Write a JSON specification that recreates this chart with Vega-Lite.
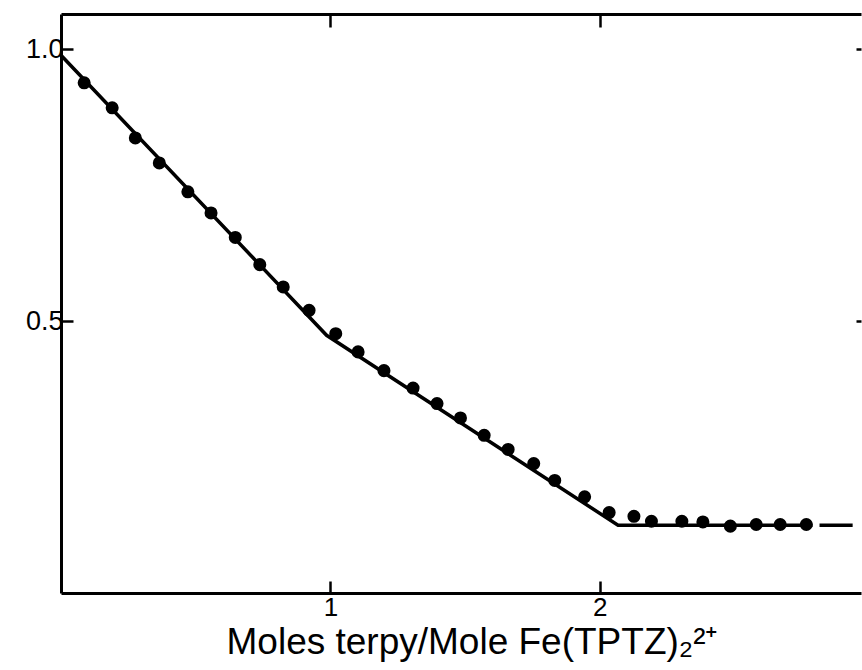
{
  "$schema": "https://vega.github.io/schema/vega-lite/v6.json",
  "width": 800,
  "height": 579,
  "autosize": {"type": "none"},
  "padding": {"left": 61, "top": 14, "right": 1, "bottom": 77},
  "background": "white",
  "config": {
    "view": {"stroke": null},
    "font": "Liberation Sans",
    "axis": {
      "domainColor": "black",
      "domainWidth": 3,
      "tickColor": "black",
      "tickWidth": 2.5,
      "tickSize": -12,
      "labelColor": "black",
      "labelFont": "Liberation Sans",
      "grid": false,
      "titleColor": "black",
      "titleFont": "Liberation Sans",
      "titleFontWeight": "normal"
    },
    "axisX": {"labelFontSize": 26},
    "axisY": {"labelFontSize": 27}
  },
  "datasets": {
    "pts": [
      {"ratio": 0.086, "abs": 0.9385},
      {"ratio": 0.190, "abs": 0.8925},
      {"ratio": 0.276, "abs": 0.837},
      {"ratio": 0.365, "abs": 0.791},
      {"ratio": 0.471, "abs": 0.738},
      {"ratio": 0.557, "abs": 0.699},
      {"ratio": 0.647, "abs": 0.654},
      {"ratio": 0.738, "abs": 0.604},
      {"ratio": 0.825, "abs": 0.563},
      {"ratio": 0.921, "abs": 0.520},
      {"ratio": 1.020, "abs": 0.477},
      {"ratio": 1.103, "abs": 0.4435},
      {"ratio": 1.199, "abs": 0.409},
      {"ratio": 1.307, "abs": 0.377},
      {"ratio": 1.396, "abs": 0.3485},
      {"ratio": 1.483, "abs": 0.322},
      {"ratio": 1.571, "abs": 0.290},
      {"ratio": 1.660, "abs": 0.264},
      {"ratio": 1.755, "abs": 0.238},
      {"ratio": 1.833, "abs": 0.207},
      {"ratio": 1.944, "abs": 0.177},
      {"ratio": 2.035, "abs": 0.148},
      {"ratio": 2.127, "abs": 0.141},
      {"ratio": 2.192, "abs": 0.132},
      {"ratio": 2.305, "abs": 0.132},
      {"ratio": 2.383, "abs": 0.1307},
      {"ratio": 2.485, "abs": 0.123},
      {"ratio": 2.581, "abs": 0.126},
      {"ratio": 2.670, "abs": 0.126},
      {"ratio": 2.767, "abs": 0.126}
    ],
    "fit": [
      {"seg": "a", "ratio": 0.0, "abs": 0.989},
      {"seg": "a", "ratio": 0.986, "abs": 0.474},
      {"seg": "a", "ratio": 2.068, "abs": 0.1246},
      {"seg": "a", "ratio": 2.790, "abs": 0.1246},
      {"seg": "b", "ratio": 2.816, "abs": 0.1246},
      {"seg": "b", "ratio": 2.939, "abs": 0.1246}
    ]
  },
  "layer": [
    {
      "data": {"name": "fit"},
      "mark": {"type": "line", "color": "black", "strokeWidth": 3.5},
      "encoding": {
        "x": {
          "field": "ratio", "type": "quantitative",
          "scale": {"domain": [0, 2.97], "nice": false, "zero": false},
          "axis": {
            "orient": "bottom", "values": [1, 2], "format": "d",
            "labelPadding": 13,
            "title": "Moles terpy/Mole Fe(TPTZ)₂²⁺",
            "titleFontSize": 37, "titlePadding": 4, "titleX": 411, "titleAlign": "center"
          }
        },
        "y": {
          "field": "abs", "type": "quantitative",
          "scale": {"domain": [0, 1.065], "nice": false, "zero": false},
          "axis": {
            "orient": "left", "values": [0.5, 1.0], "format": ".1f",
            "labelPadding": 10, "title": null
          }
        },
        "detail": {"field": "seg", "type": "nominal"}
      }
    },
    {
      "data": {"name": "pts"},
      "mark": {"type": "circle", "color": "black", "opacity": 1, "size": 170},
      "encoding": {
        "x": {
          "field": "ratio", "type": "quantitative",
          "axis": {
            "orient": "top", "values": [1, 2], "labels": false, "title": null,
            "tickSize": -13
          }
        },
        "y": {
          "field": "abs", "type": "quantitative",
          "axis": {
            "orient": "right", "values": [0.5, 1.0], "labels": false, "title": null,
            "domain": false, "tickSize": -5
          }
        }
      }
    }
  ],
  "resolve": {"axis": {"x": "independent", "y": "independent"}}
}
